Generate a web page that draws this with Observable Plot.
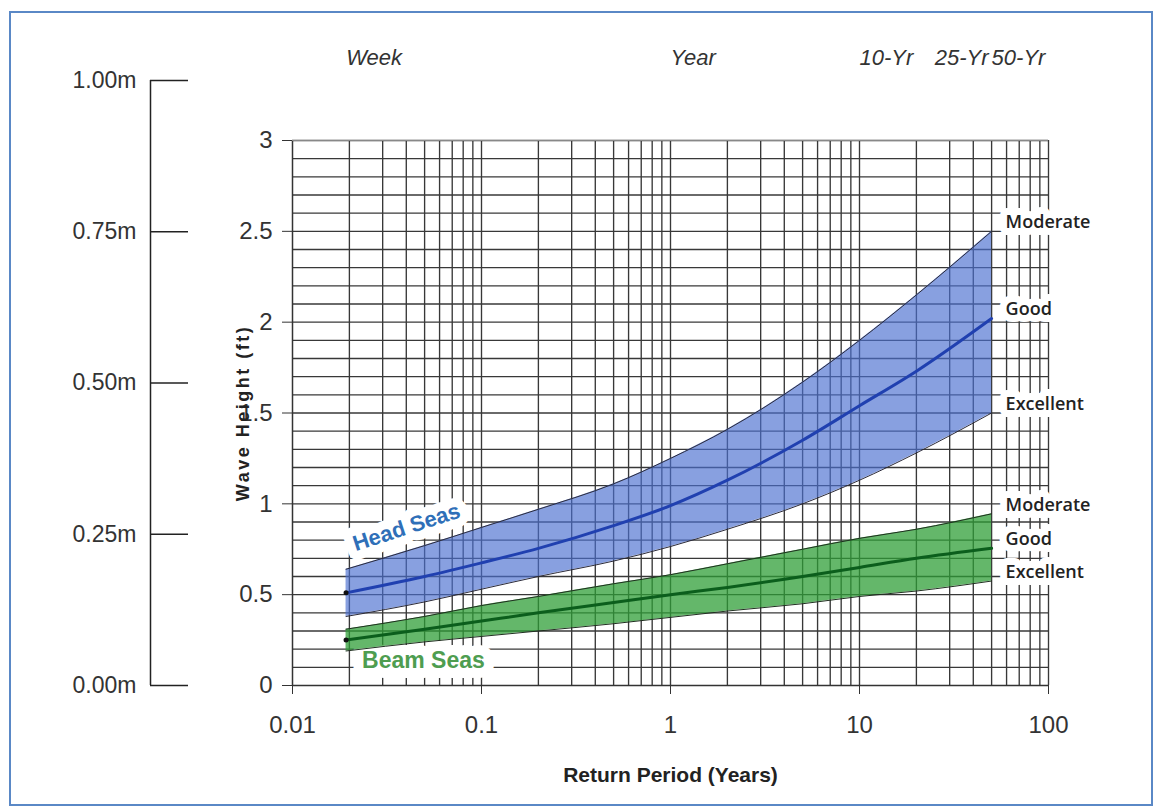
<!DOCTYPE html>
<html><head><meta charset="utf-8">
<script src="https://cdn.jsdelivr.net/npm/d3@7"></script>
<script src="https://cdn.jsdelivr.net/npm/@observablehq/plot@0.6"></script>
<style>
html,body{margin:0;padding:0;background:#fff;}
#wrap{position:relative;width:1160px;height:810px;overflow:hidden;background:#fff;}
#main{position:absolute;left:0;top:0;}
#meters{position:absolute;left:0;top:0;}
#border{position:absolute;left:9px;top:11px;width:1144px;height:795px;border:2px solid #5a88c6;box-sizing:border-box;pointer-events:none;}
</style></head><body>
<div id="wrap"><div id="main"></div><div id="meters"></div><div id="border"></div></div>
<script>
// Return periods (years) at which the curves were read
const periods = [0.0192, 0.05, 0.1, 0.2, 0.5, 1, 2, 5, 10, 20, 50];
// Head Seas wave height (ft)
const headExcellent = [0.38, 0.46, 0.53, 0.60, 0.685, 0.765, 0.86, 1.00, 1.13, 1.28, 1.50];
const headGood      = [0.51, 0.60, 0.675, 0.755, 0.88, 0.99, 1.13, 1.35, 1.54, 1.73, 2.02];
const headModerate  = [0.64, 0.77, 0.87, 0.97, 1.11, 1.25, 1.41, 1.67, 1.90, 2.15, 2.50];
// Beam Seas wave height (ft)
const beamExcellent = [0.19, 0.24, 0.27, 0.30, 0.34, 0.375, 0.41, 0.45, 0.49, 0.52, 0.575];
const beamGood      = [0.25, 0.31, 0.355, 0.40, 0.457, 0.50, 0.54, 0.60, 0.65, 0.70, 0.755];
const beamModerate  = [0.31, 0.38, 0.44, 0.49, 0.56, 0.61, 0.67, 0.75, 0.81, 0.86, 0.945];

const seriesNames = ["Head Seas", "Beam Seas"];
const levelNames = ["Moderate", "Good", "Excellent"];

const yTicks = [0, 0.5, 1, 1.5, 2, 2.5, 3];
const yTickLabels = ["0", "0.5", "1", "1.5", "2", "2.5", "3"];
const xTicks = [0.01, 0.1, 1, 10, 100];
const xTickLabels = ["0.01", "0.1", "1", "10", "100"];
const returnMarks = [1/52, 1, 10, 25, 50];
const returnLabels = ["Week", "Year", "10-Yr", "25-Yr", "50-Yr"];
const meterTicks = [0, 0.25, 0.5, 0.75, 1];
const meterLabels = ["0.00m", "0.25m", "0.50m", "0.75m", "1.00m"];

// grid values (scale ticks)
const hGrid = d3.range(1, 31).map(i => i / 10);
const vGrid = [];
for (const dec of [0.01, 0.1, 1, 10]) for (let k = 2; k <= 10; k++) vGrid.push(+(dec * k).toPrecision(3));

const head = periods.map((p, i) => ({p, lo: headExcellent[i], mid: headGood[i], hi: headModerate[i]}));
const beam = periods.map((p, i) => ({p, lo: beamExcellent[i], mid: beamGood[i], hi: beamModerate[i]}));
const last = periods.length - 1;
const endLabels = [
  {p: periods[last], v: headModerate[last], t: levelNames[0]},
  {p: periods[last], v: headGood[last], t: levelNames[1]},
  {p: periods[last], v: headExcellent[last], t: levelNames[2]},
  {p: periods[last], v: beamModerate[last], t: levelNames[0]},
  {p: periods[last], v: beamGood[last], t: levelNames[1]},
  {p: periods[last], v: beamExcellent[last], t: levelNames[2]}
];

const font = "'Liberation Sans', Arial, sans-serif";
const narrow = "'Liberation Sans Narrow', 'Arial Narrow', 'Liberation Sans', Arial, sans-serif";
const gridColor = "#383838";

const main = Plot.plot({
  width: 1160, height: 810,
  marginLeft: 292, marginRight: 112, marginTop: 140, marginBottom: 125,
  style: {fontFamily: font, fontSize: "22px", color: "#333", background: "transparent"},
  x: {type: "log", domain: [0.01, 100]},
  y: {domain: [0, 3]},
  marks: [
    Plot.ruleY(hGrid, {stroke: gridColor, strokeWidth: 1.35}),
    Plot.ruleX(vGrid, {stroke: gridColor, strokeWidth: 1.35}),
    // labels with white halo
    Plot.text([seriesNames[0]], {x: 0.0401, y: 0.87, text: d => d, rotate: -18, fill: "#2f6fb8", stroke: "white", strokeWidth: 18, strokeLinejoin: "round", paintOrder: "stroke", fontWeight: "bold", fontSize: 22, fontFamily: font}),
    Plot.text([seriesNames[1]], {x: 0.0493, y: 0.135, text: d => d, fill: "#4e9d50", stroke: "white", strokeWidth: 20, strokeLinejoin: "round", paintOrder: "stroke", fontWeight: "bold", fontSize: 23, fontFamily: font}),
    Plot.text(endLabels, {x: "p", y: "v", text: "t", dx: 14, dy: -9, textAnchor: "start", fill: "#222", stroke: "white", strokeWidth: 14, strokeLinejoin: "round", paintOrder: "stroke", fontWeight: 600, fontSize: 18, fontFamily: "'Open Sans', sans-serif"}),
    // bands
    Plot.areaY(head, {x: "p", y1: "lo", y2: "hi", fill: "#4a6fd0", fillOpacity: 0.66, curve: "monotone-x"}),
    Plot.areaY(beam, {x: "p", y1: "lo", y2: "hi", fill: "#2e9e36", fillOpacity: 0.74, curve: "monotone-x"}),
    Plot.line(head, {x: "p", y: "hi", stroke: "#2a2a3a", strokeWidth: 1, curve: "monotone-x"}),
    Plot.line(head, {x: "p", y: "lo", stroke: "#2a2a3a", strokeWidth: 1, curve: "monotone-x"}),
    Plot.line(beam, {x: "p", y: "hi", stroke: "#1f2f1f", strokeWidth: 1, curve: "monotone-x"}),
    Plot.line(beam, {x: "p", y: "lo", stroke: "#1f2f1f", strokeWidth: 1, curve: "monotone-x"}),
    Plot.line(head, {x: "p", y: "mid", stroke: "#2040b0", strokeWidth: 3, curve: "monotone-x"}),
    Plot.line(beam, {x: "p", y: "mid", stroke: "#0b5e1c", strokeWidth: 3, curve: "monotone-x"}),
    Plot.dot([head[0], beam[0]], {x: "p", y: "mid", r: 2.5, fill: "#111"}),
    // axes
    Plot.axisY({ticks: yTicks, tickFormat: (d) => yTickLabels[yTicks.indexOf(d)], tickSize: 10, tickPadding: 10, fontSize: 24, label: null, stroke: "#333"}),
    Plot.axisX({ticks: xTicks, tickFormat: (d) => xTickLabels[xTicks.indexOf(d)], tickSize: 9, tickPadding: 21, fontSize: 24, label: null, stroke: "#333"}),
    Plot.ruleY([0], {stroke: "#333", strokeWidth: 1.5}),
    Plot.ruleX([0.01], {stroke: "#333", strokeWidth: 1.5}),
    Plot.ruleY([3], {stroke: "#888", strokeWidth: 1.2}),
    Plot.text(["Wave Height (ft)"], {frameAnchor: "left", dx: -49, rotate: -90, textAnchor: "middle", lineAnchor: "middle", fontWeight: "bold", fontSize: 18, fill: "#222"}),
    Plot.text(["Return Period (Years)"], {frameAnchor: "bottom", dy: 90, lineAnchor: "middle", fontWeight: "bold", fontSize: 21, fill: "#222", fontFamily: narrow}),
    Plot.text(returnMarks, {x: d => d, frameAnchor: "top", dy: -83, lineAnchor: "middle", text: (d, i) => returnLabels[i], textAnchor: "start", fontStyle: "italic", fontSize: 22, fill: "#333", fontFamily: narrow})
  ]
});
document.getElementById("main").appendChild(main);
d3.select(main).selectAll("text").filter(function() { return this.textContent === "Wave Height (ft)"; }).attr("letter-spacing", "2.5");

const meters = Plot.plot({
  width: 260, height: 810,
  marginLeft: 150, marginRight: 72, marginTop: 80, marginBottom: 125,
  style: {fontFamily: font, fontSize: "22px", color: "#333", background: "transparent"},
  x: {domain: [0, 1], axis: null},
  y: {domain: [0, 1], axis: null},
  marks: [
    Plot.ruleX([0], {x: d => d, y1: 0, y2: 1, stroke: "#222", strokeWidth: 1.5}),
    Plot.ruleY(meterTicks, {y: d => d, x1: 0, x2: 1, stroke: "#222", strokeWidth: 1.5}),
    Plot.text(meterTicks, {x: 0, y: d => d, text: (d, i) => meterLabels[i], textAnchor: "end", dx: -14, fontSize: 23, fill: "#333"})
  ]
});
document.getElementById("meters").appendChild(meters);
</script>
</body></html>
